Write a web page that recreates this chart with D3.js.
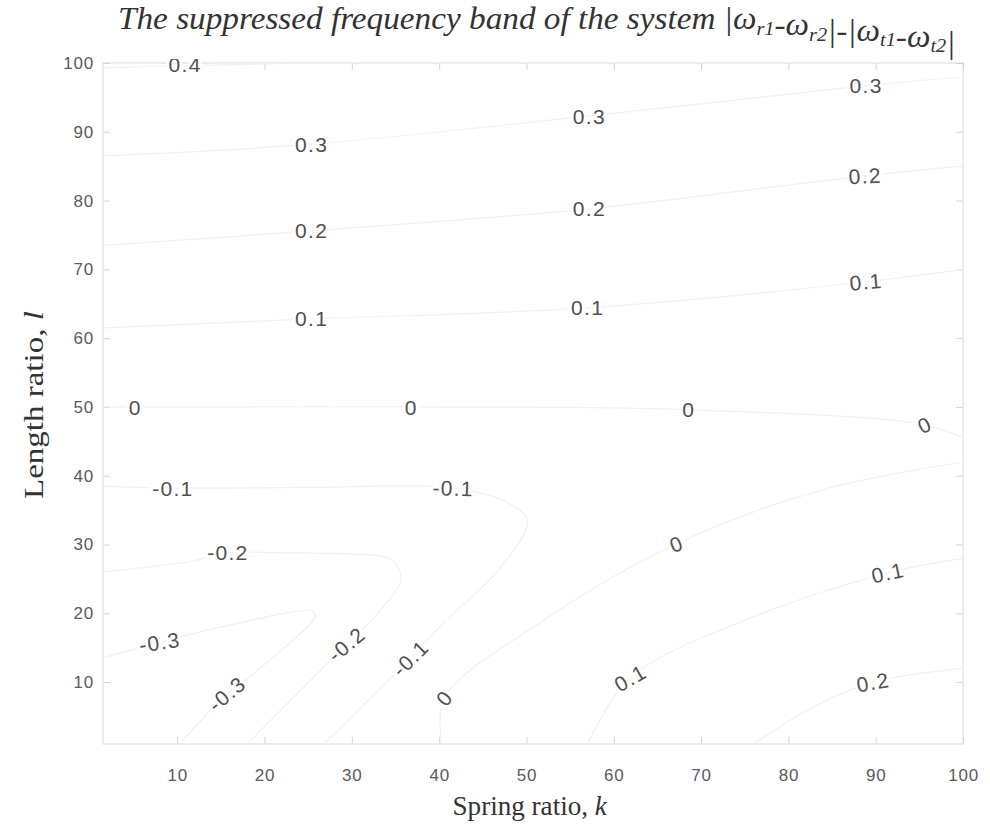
<!DOCTYPE html>
<html><head><meta charset="utf-8">
<script src="https://cdn.jsdelivr.net/npm/d3@7"></script>
<style>body{margin:0;background:#fff}svg{display:block}</style>
</head><body><svg id="c" width="990" height="834"></svg>
<script>
// ---- data ----
const xTicks = [10,20,30,40,50,60,70,80,90,100];
const yTicks = [10,20,30,40,50,60,70,80,90,100];
const kDomain = [1.5, 100];
const lDomain = [1, 100];

// contour polylines, [k, l] points
const contour_p04 = [[1.5,99.3],[11,99.6],[25,100]];
const contour_p03 = [[1.5,86.5],[25.4,88.2],[57.2,92.3],[88.9,96.7],[100,98]];
const contour_p02 = [[1.5,73.5],[25.4,75.6],[57.2,78.8],[88.8,83.6],[100,85]];
const contour_p01 = [[1.5,61.5],[25.4,62.8],[57,64.4],[88.9,68.2],[100,70]];
const contour_0_upper = [[1.5,50],[5.2,50],[36.8,50],[68.6,49.6],[95.6,47.4],[100,45.5]];
const contour_0_lower = [[40.3,1],[40.6,7.7],[52,19],[67.2,30.1],[84,38],[100,42]];
const contour_p01_lower = [[57,1],[61.9,10.6],[75,19],[91.4,25.9],[100,28]];
const contour_p02_lower = [[76,1],[83,6.5],[89.7,10],[100,12]];
const contour_m01 = [[1.5,38.5],[9.5,38.2],[25,38.3],[41.6,38.2],[48,36],[50.1,33.4],[47,26.6],[40,18],[36.7,13.5],[26.8,1]];
const contour_m02 = [[1.5,26],[5.7,26.6],[11.8,27.6],[15.8,28.8],[21.8,28.8],[30,28.6],[34.4,27.9],[35.5,26.1],[35.5,24.3],[32.9,19.9],[29.4,15.5],[26,11.2],[18,1]];
const contour_m03 = [[1.5,13.5],[8,15.8],[15,18],[25.5,20.3],[25.8,19.6],[19.1,11.6],[15.7,8.3],[10.3,1]];

// contour labels: k, l, text, rotation (deg)
const labelK     = [10.9, 25.4, 25.4, 25.4, 5.2, 9.5, 15.8, 8.0, 15.7, 29.4, 36.7, 40.6, 36.8, 41.6, 57.2, 57.2, 57.0, 68.6, 67.2, 61.9, 88.9, 88.8, 88.9, 95.6, 91.4, 89.7];
const labelL     = [99.8, 88.2, 75.6, 62.8, 50.0, 38.2, 28.8, 15.8, 8.3, 15.5, 13.5, 7.7, 50.0, 38.2, 92.3, 78.8, 64.4, 49.6, 30.1, 10.6, 96.7, 83.6, 68.2, 47.4, 25.9, 10.0];
const labelText  = ["0.4","0.3","0.2","0.1","0","-0.1","-0.2","-0.3","-0.3","-0.2","-0.1","0","0","-0.1","0.3","0.2","0.1","0","0","0.1","0.3","0.2","0.1","0","0.1","0.2"];
const labelAngle = [0, 0, 0, 0, 0, 0, 0, -8, -40, -40, -45, -50, 0, 2, 0, 0, 0, 0, -20, -30, 0, -3, -5, -25, -12, -10];

// ---- drawing ----
const svg = d3.select("#c");
const L = 103, R = 963, T = 63, B = 744;
const x = d3.scaleLinear().domain(kDomain).range([L, R]);
const y = d3.scaleLinear().domain(lDomain).range([B, T]);

svg.append("defs").append("clipPath").attr("id","clip")
  .append("rect").attr("x",L).attr("y",T-4).attr("width",R-L).attr("height",B-T+4);

// frame
svg.append("rect").attr("x",L).attr("y",T).attr("width",R-L).attr("height",B-T)
  .attr("fill","none").attr("stroke","#e0e0e0").attr("stroke-width",1.2);

const tickColor = "#d4d4d4";
function styleAxis(g){ g.select(".domain").remove(); g.selectAll(".tick line").attr("stroke",tickColor); }
const tickFont = "'Liberation Sans', Arial, sans-serif";

svg.append("g").attr("transform",`translate(0,${B})`)
  .call(d3.axisBottom(x).tickValues(xTicks).tickSizeInner(-7).tickSizeOuter(0).tickPadding(25))
  .call(styleAxis)
  .call(g=>g.selectAll("text").attr("font-family",tickFont).attr("font-size",17).attr("fill","#5a5a5a").attr("letter-spacing","0.8px"));
svg.append("g").attr("transform",`translate(${L},0)`)
  .call(d3.axisLeft(y).tickValues(yTicks).tickSizeInner(-7).tickSizeOuter(0).tickPadding(9))
  .call(styleAxis)
  .call(g=>g.selectAll("text").attr("font-family",tickFont).attr("font-size",17).attr("fill","#5a5a5a").attr("letter-spacing","0.8px"));
svg.append("g").attr("transform",`translate(0,${T})`)
  .call(d3.axisTop(x).tickValues(xTicks).tickSizeInner(-7).tickSizeOuter(0).tickFormat(""))
  .call(styleAxis);
svg.append("g").attr("transform",`translate(${R},0)`)
  .call(d3.axisRight(y).tickValues(yTicks).tickSizeInner(-7).tickSizeOuter(0).tickFormat(""))
  .call(styleAxis);

// contour lines
const line = d3.line().x(d=>x(d[0])).y(d=>y(d[1])).curve(d3.curveCatmullRom.alpha(0.5));
const allContours = [contour_p04, contour_p03, contour_p02, contour_p01, contour_0_upper, contour_0_lower,
  contour_p01_lower, contour_p02_lower, contour_m01, contour_m02, contour_m03];
const plot = svg.append("g").attr("clip-path","url(#clip)");
plot.selectAll("path.c").data(allContours).join("path").attr("class","c")
  .attr("d", line).attr("fill","none").attr("stroke","#f0f0f0").attr("stroke-width",1.2);

// contour labels
const labels = labelText.map((t,i)=>({t, k:labelK[i], l:labelL[i], a:labelAngle[i]}));
plot.selectAll("text.lab").data(labels).join("text").attr("class","lab")
  .attr("transform", d=>`translate(${x(d.k)},${y(d.l)}) rotate(${d.a})`)
  .attr("text-anchor","middle").attr("dy","0.36em")
  .attr("font-family",tickFont).attr("font-size",21).attr("letter-spacing","1.3px")
  .attr("fill","#505050")
  .attr("stroke","#fff").attr("stroke-width",6).attr("paint-order","stroke")
  .text(d=>d.t);

// helper: squeeze text horizontally to a target width
function fitWidth(sel, cx, cy, w, rotate){
  const bb = sel.node().getBBox();
  const s = w / bb.width;
  const dx = -(bb.x + bb.width/2), dy = -(bb.y + bb.height/2);
  sel.attr("transform", `translate(${cx},${cy}) ${rotate?`rotate(${rotate})`:""} scale(${s},1) translate(${dx},${dy})`);
}
const serif = "'Liberation Serif','Times New Roman',serif";

// title
const title = svg.append("text").attr("font-family",serif).attr("font-style","italic")
  .attr("font-size",31).attr("fill","#333");
title.append("tspan").text("The suppressed frequency band of the system |");
const sub = (base, s)=>{ title.append("tspan").text(base); title.append("tspan").attr("font-size",19).attr("dy",6).text(s); title.append("tspan").attr("dy",-6).text(""); };
sub("ω","r1"); title.append("tspan").text("-");
sub("ω","r2"); title.append("tspan").text("|-|");
sub("ω","t1"); title.append("tspan").text("-");
sub("ω","t2"); title.append("tspan").text("|");
fitWidth(title, 537, 30, 838);

// axis labels
const xl = svg.append("text").attr("font-family",serif).attr("font-size",28).attr("fill","#333");
xl.append("tspan").text("Spring ratio, ");
xl.append("tspan").attr("font-style","italic").text("k");
fitWidth(xl, 530, 805, 155);

const yl = svg.append("text").attr("font-family",serif).attr("font-size",27).attr("fill","#333");
yl.append("tspan").text("Length ratio, ");
yl.append("tspan").attr("font-style","italic").text("l");
fitWidth(yl, 34, 405, 188, -90);
</script></body></html>
